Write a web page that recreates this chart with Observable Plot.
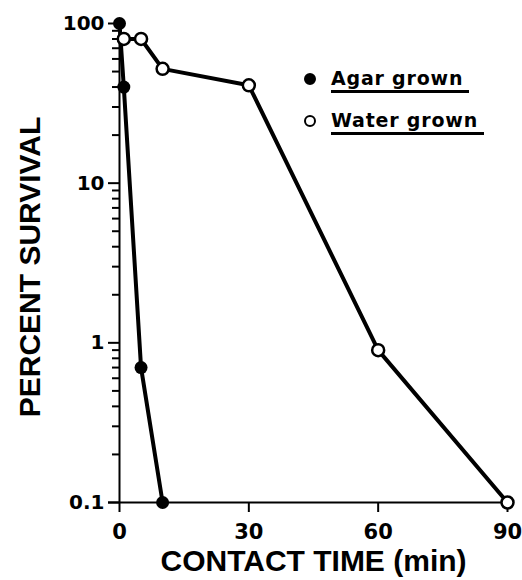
<!DOCTYPE html>
<html>
<head>
<meta charset="utf-8">
<script src="https://cdn.jsdelivr.net/npm/d3@7"></script>
<script src="https://cdn.jsdelivr.net/npm/@observablehq/plot@0.6"></script>
<style>
  html, body { margin: 0; padding: 0; background: #fff; }
  #wrap { position: relative; width: 522px; height: 580px; }
  .leg { position: absolute; font-family: "DejaVu Sans", sans-serif; font-weight: bold; font-size: 19px; color: #000; white-space: nowrap; letter-spacing: 0.8px; }
  .leg .txt { position: absolute; left: 21px; top: -12px; padding-bottom: 1px; border-bottom: 3.5px solid #000; padding-right: 6px; }
  .leg .mk { position: absolute; left: -6px; top: -6px; width: 12px; height: 12px; border-radius: 50%; box-sizing: border-box; border: 2.5px solid #000; }
</style>
</head>
<body>
<div id="wrap"></div>
<script>
// ---- data ----
const agarTime = [0, 1, 5, 10];
const agarSurvival = [100, 40, 0.7, 0.1];
const waterTime = [1, 5, 10, 30, 60, 90];
const waterSurvival = [80, 80, 52, 41, 0.9, 0.1];
const xTicks = [0, 30, 60, 90];
const yTicks = [0.1, 1, 10, 100];
const yTickLabels = ["0.1", "1", "10", "100"];
const seriesNames = ["Agar grown", "Water grown"];
const xDomain = [0, 90];
const yDomain = [0.1, 100];

const agar = agarTime.map((t, i) => ({t, s: agarSurvival[i]}));
const water = waterTime.map((t, i) => ({t, s: waterSurvival[i]}));
const yMinor = [];
for (const d of [0.1, 1, 10]) for (let k = 2; k <= 9; k++) yMinor.push(+(d * k).toFixed(3));

// layout
const W = 522, H = 580, mL = 119, mR = 15, mT = 23, mB = 78;
const pxPerMin = (W - mL - mR) / (xDomain[1] - xDomain[0]);
const pxPerDecade = (H - mT - mB) / Math.log10(yDomain[1] / yDomain[0]);
const xOff = px => xDomain[0] - px / pxPerMin;
const yOff = (v, px) => v * Math.pow(10, -px / pxPerDecade);

const minorTicks = yMinor.map(v => ({y: v}));
const majorTicks = yTicks.map((v, i) => ({y: v, label: yTickLabels[i]}));
const bottomTicks = xTicks.map(v => ({x: v}));

const chart = Plot.plot({
  width: W,
  height: H,
  marginLeft: mL,
  marginRight: mR,
  marginTop: mT,
  marginBottom: mB,
  style: {fontFamily: "DejaVu Sans, sans-serif", fontWeight: "bold", color: "#000", background: "#fff", overflow: "visible"},
  x: {domain: xDomain, axis: null},
  y: {type: "log", domain: yDomain, axis: null},
  marks: [
    // axis lines
    Plot.ruleX([xDomain[0]], {y1: yDomain[0], y2: yDomain[1], stroke: "#000", strokeWidth: 2}),
    Plot.ruleY([yDomain[0]], {x1: xOff(11), x2: xDomain[1], stroke: "#000", strokeWidth: 2}),
    // y ticks, pointing left
    Plot.ruleY(minorTicks, {y: "y", x1: xOff(7), x2: xDomain[0], stroke: "#000", strokeWidth: 2}),
    Plot.ruleY(majorTicks, {y: "y", x1: xOff(11), x2: xDomain[0], stroke: "#000", strokeWidth: 2}),
    Plot.text(majorTicks, {x: xDomain[0], y: "y", text: "label", textAnchor: "end", dx: -15, fontSize: 20, fill: "#000"}),
    // x ticks, pointing down
    Plot.ruleX(bottomTicks, {x: "x", y1: yDomain[0], y2: yOff(yDomain[0], 10), stroke: "#000", strokeWidth: 2}),
    Plot.text(bottomTicks, {x: "x", y: yDomain[0], text: d => String(d.x), dy: 30, fontSize: 21, fill: "#000"}),
    // axis titles
    Plot.text(["PERCENT SURVIVAL"], {frameAnchor: "left", textAnchor: "middle", dx: -89, dy: 4, rotate: -90, fontSize: 30, fontFamily: "Liberation Sans, Arial, sans-serif", fontWeight: "bold", fill: "#000"}),
    Plot.text(["CONTACT TIME (min)"], {frameAnchor: "bottom", dy: 68, fontSize: 30, fontFamily: "Liberation Sans, Arial, sans-serif", fontWeight: "bold", fill: "#000"}),
    // series
    Plot.line(agar, {x: "t", y: "s", stroke: "#000", strokeWidth: 4}),
    Plot.line(water, {x: "t", y: "s", stroke: "#000", strokeWidth: 4}),
    Plot.dot(agar, {x: "t", y: "s", r: 6.5, fill: "#000", stroke: "none"}),
    Plot.dot(water, {x: "t", y: "s", r: 6, fill: "#fff", stroke: "#000", strokeWidth: 2.5})
  ]
});

const wrap = document.getElementById("wrap");
wrap.appendChild(chart);

// legend
const legPos = [[310, 79], [310, 121]];
seriesNames.forEach((name, i) => {
  const g = document.createElement("div");
  g.className = "leg";
  g.style.left = legPos[i][0] + "px";
  g.style.top = legPos[i][1] + "px";
  const mk = document.createElement("div");
  mk.className = "mk";
  mk.style.background = i === 0 ? "#000" : "#fff";
  const tx = document.createElement("div");
  tx.className = "txt";
  tx.textContent = name;
  g.appendChild(mk);
  g.appendChild(tx);
  wrap.appendChild(g);
});
</script>
</body>
</html>
